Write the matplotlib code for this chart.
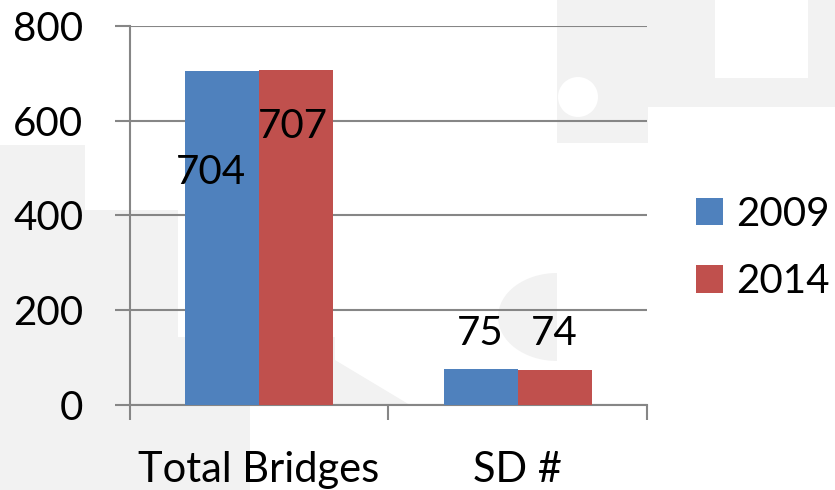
import matplotlib
matplotlib.use("Agg")
import matplotlib.pyplot as plt
from matplotlib.patches import Polygon, Rectangle, Ellipse
import numpy as np

plt.rcParams['font.family'] = ['Lato', 'DejaVu Sans']

categories = ['Total Bridges', 'SD #']
years = ['2009', '2014']
values_2009 = [704, 75]
values_2014 = [707, 74]
colors = ['#4F81BD', '#C0504D']
yticks = [0, 200, 400, 600, 800]

# label offsets (points) from the top of each bar, as placed in the original
label_offsets = [[(-8, -73), (0, 26)], [(-2, -41), (0, 26)]]

grid_col = '#868686'
wm_col = '#f2f2f2'

W, H = 835, 490
fig = plt.figure(figsize=(W / 100, H / 100), dpi=100)


def px(pts):
    # top-left pixel coords -> figure fraction
    return [(a / W, 1 - b / H) for a, b in pts]


# faint logo watermark behind the chart
tf = fig.transFigure
fig.add_artist(Polygon(px([(0, 145), (85, 145), (85, 210), (178, 210), (178, 337),
                           (335, 337), (335, 360), (410, 405), (250, 405),
                           (250, 490), (0, 490)]),
                       closed=True, color=wm_col, lw=0, transform=tf, zorder=-3))
fig.add_artist(Polygon(px([(557, 0), (835, 0), (835, 107), (648, 107), (648, 143),
                           (557, 143)]),
                       closed=True, color=wm_col, lw=0, transform=tf, zorder=-3))
fig.add_artist(Rectangle((715 / W, 1 - 78 / H), 93 / W, 78 / H, color='white',
                         lw=0, transform=tf, zorder=-2))
fig.add_artist(Ellipse((578 / W, 1 - 97 / H), 40 / W, 40 / H, color='white',
                       lw=0, transform=tf, zorder=-2))
fig.add_artist(Ellipse((557 / W, 1 - 317 / H), 118 / W, 88 / H, color=wm_col,
                       lw=0, transform=tf, zorder=-3))
fig.add_artist(Rectangle((557 / W, 1 - 362 / H), 60 / W, 90 / H, color='white',
                         lw=0, transform=tf, zorder=-2))

ax = fig.add_axes([0.1553, 0.1735, 0.6196, 0.7735])
ax.set_facecolor('none')

x = np.arange(len(categories))
w = 0.286
series = [values_2009, values_2014]
for i, vals in enumerate(series):
    xs = x + (i - 0.5) * w
    ax.bar(xs, vals, width=w, color=colors[i], label=years[i], zorder=3)
    for j, v in enumerate(vals):
        ax.annotate(str(v), (xs[j], v), xytext=label_offsets[i][j],
                    textcoords='offset points', ha='center', va='center',
                    fontsize=29, zorder=4)

ax.set_xlim(-0.5, len(categories) - 0.5)
ax.set_ylim(0, 800)
ax.set_yticks(yticks)
ax.yaxis.grid(True, color=grid_col, linewidth=1.5, zorder=0)
ax.set_axisbelow(True)

ax.set_xticks(x)
ax.set_xticklabels(categories, fontsize=30)
ax.set_xticks(np.arange(len(categories) + 1) - 0.5, minor=True)
ax.tick_params(axis='x', which='major', length=0, pad=33)
ax.tick_params(axis='x', which='minor', length=11, width=1.5, color=grid_col)
ax.tick_params(axis='y', length=11, width=1.5, color=grid_col, pad=22.5,
               labelsize=29)

for s in ['top', 'right']:
    ax.spines[s].set_visible(False)
for s in ['left', 'bottom']:
    ax.spines[s].set_color(grid_col)
    ax.spines[s].set_linewidth(1.5)

fig.legend(loc='center left', bbox_to_anchor=(0.8335, 0.494), frameon=False,
           fontsize=29, handlelength=0.67, handleheight=0.67,
           handletextpad=0.33, labelspacing=0.75, borderpad=0,
           borderaxespad=0)

fig.savefig('out.png', dpi=100)
